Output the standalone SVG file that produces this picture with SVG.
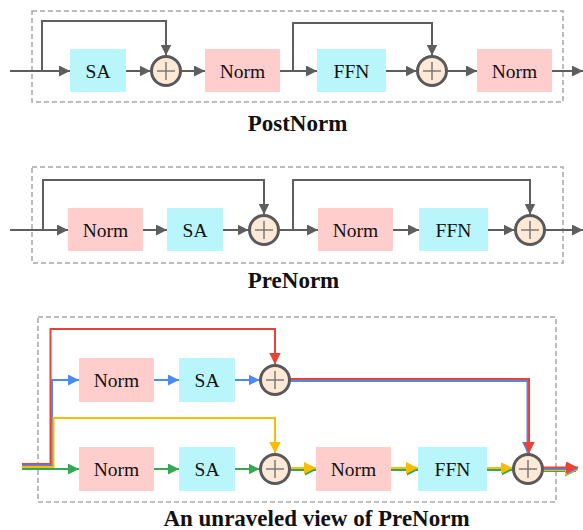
<svg xmlns="http://www.w3.org/2000/svg" width="583" height="530" viewBox="0 0 583 530">
<defs>
<style>
.frame{fill:none;stroke:#a8a8a8;stroke-width:1.5;stroke-dasharray:5,3}
.norm{fill:#ffcdcb}
.sa{fill:#b9f6fc}
.lbl{font-family:'Liberation Serif','DejaVu Serif',serif;font-size:19.5px;fill:#111;text-anchor:middle;dominant-baseline:central}
.title{font-family:'Liberation Serif','DejaVu Serif',serif;font-size:23px;font-weight:bold;fill:#111;text-anchor:middle}
.add circle{fill:#fde9d6;stroke:#595959;stroke-width:3}
.add path{stroke:#7a7a7a;stroke-width:1.5;fill:none}
.g{fill:none;stroke:#5e5e5e;stroke-width:2}
.r{fill:none;stroke:#ea4335;stroke-width:2}
.b{fill:none;stroke:#4a8af4;stroke-width:2}
.y{fill:none;stroke:#fbbc05;stroke-width:2}
.gr{fill:none;stroke:#34a853;stroke-width:2}
</style>
<marker id="ag" viewBox="0 0 10 10" refX="10" refY="5" markerWidth="11" markerHeight="11" markerUnits="userSpaceOnUse" orient="auto"><path d="M0,0 L10,5 L0,10 z" fill="#5e5e5e"/></marker>
<marker id="ar" viewBox="0 0 10 10" refX="10" refY="5" markerWidth="12" markerHeight="12" markerUnits="userSpaceOnUse" orient="auto"><path d="M0,0 L10,5 L0,10 z" fill="#ea4335"/></marker>
<marker id="ab" viewBox="0 0 10 10" refX="10" refY="5" markerWidth="11" markerHeight="11" markerUnits="userSpaceOnUse" orient="auto"><path d="M0,0 L10,5 L0,10 z" fill="#4a8af4"/></marker>
<marker id="ay" viewBox="0 0 10 10" refX="10" refY="5" markerWidth="12" markerHeight="12" markerUnits="userSpaceOnUse" orient="auto"><path d="M0,0 L10,5 L0,10 z" fill="#fbbc05"/></marker>
<marker id="agr" viewBox="0 0 10 10" refX="10" refY="5" markerWidth="11" markerHeight="11" markerUnits="userSpaceOnUse" orient="auto"><path d="M0,0 L10,5 L0,10 z" fill="#34a853"/></marker>
</defs>
<rect width="583" height="530" fill="#fff"/>

<!-- frames -->
<rect class="frame" x="32" y="11" width="531" height="91"/>
<rect class="frame" x="32" y="167" width="531" height="96"/>
<rect class="frame" x="38" y="317" width="518" height="185"/>

<g id="connectors">
<!-- PostNorm -->
<path class="g" d="M10,71 H70" marker-end="url(#ag)"/>
<path class="g" d="M42,71 V21 H166 V55.5" marker-end="url(#ag)"/>
<path class="g" d="M126,71 H150.5" marker-end="url(#ag)"/>
<path class="g" d="M181.5,71 H205" marker-end="url(#ag)"/>
<path class="g" d="M280,71 H317" marker-end="url(#ag)"/>
<path class="g" d="M293,71 V23 H432 V55.5" marker-end="url(#ag)"/>
<path class="g" d="M386,71 H416.5" marker-end="url(#ag)"/>
<path class="g" d="M447.5,71 H477" marker-end="url(#ag)"/>
<path class="g" d="M552,71 H583" marker-end="url(#ag)"/>
<!-- PreNorm -->
<path class="g" d="M10,230 H68" marker-end="url(#ag)"/>
<path class="g" d="M43,230 V180 H264 V214.5" marker-end="url(#ag)"/>
<path class="g" d="M143,230 H167" marker-end="url(#ag)"/>
<path class="g" d="M223,230 H248.5" marker-end="url(#ag)"/>
<path class="g" d="M279.5,230 H318" marker-end="url(#ag)"/>
<path class="g" d="M293,230 V180 H530 V214.5" marker-end="url(#ag)"/>
<path class="g" d="M393,230 H419" marker-end="url(#ag)"/>
<path class="g" d="M488,230 H514.5" marker-end="url(#ag)"/>
<path class="g" d="M545.5,230 H583" marker-end="url(#ag)"/>
<!-- Unraveled -->
<path class="r" d="M22,464 H50.5 V329 H275 V364.5" marker-end="url(#ar)"/>
<path class="b" d="M22,465.5 H52 V380 H79" marker-end="url(#ab)"/>
<path class="y" d="M22,467 H53.5 V418 H275 V453.5" marker-end="url(#ay)"/>
<path class="gr" d="M22,469 H79" marker-end="url(#agr)"/>
<path class="b" d="M154,380 H179" marker-end="url(#ab)"/>
<path class="b" d="M235,380 H259.5" marker-end="url(#ab)"/>
<path class="b" d="M290.5,381 H527.5 V453" marker-end="url(#ab)"/>
<path class="r" d="M290.5,379 H529 V453.5" marker-end="url(#ar)"/>
<path class="gr" d="M154,469 H179" marker-end="url(#agr)"/>
<path class="gr" d="M235,469 H259.5" marker-end="url(#agr)"/>
<path class="gr" d="M290.5,470 H316" marker-end="url(#agr)"/>
<path class="y" d="M290.5,468 H316" marker-end="url(#ay)"/>
<path class="gr" d="M391,470 H418" marker-end="url(#agr)"/>
<path class="y" d="M391,468 H418" marker-end="url(#ay)"/>
<path class="gr" d="M487,470 H512.5" marker-end="url(#agr)"/>
<path class="y" d="M487,468 H512.5" marker-end="url(#ay)"/>
<path class="gr" d="M543.5,471 H576" marker-end="url(#agr)"/>
<path class="y" d="M543.5,470 H577" marker-end="url(#ay)"/>
<path class="b" d="M543.5,469 H577.5" marker-end="url(#ab)"/>
<path class="r" d="M543.5,467.5 H578" marker-end="url(#ar)"/>
</g>

<!-- PostNorm nodes -->
<g id="p1-sa"><rect class="sa" x="70" y="49" width="56" height="43"/><text class="lbl" x="98" y="71">SA</text></g>
<g id="p1-add1" class="add"><circle cx="166" cy="71" r="14.5"/><path d="M157,71 H175 M166,62 V80"/></g>
<g id="p1-norm1"><rect class="norm" x="205" y="49" width="75" height="43"/><text class="lbl" x="242.5" y="71">Norm</text></g>
<g id="p1-ffn"><rect class="sa" x="317" y="49" width="69" height="43"/><text class="lbl" x="351.5" y="71">FFN</text></g>
<g id="p1-add2" class="add"><circle cx="432" cy="71" r="14.5"/><path d="M423,71 H441 M432,62 V80"/></g>
<g id="p1-norm2"><rect class="norm" x="477" y="49" width="75" height="43"/><text class="lbl" x="514.5" y="71">Norm</text></g>
<text class="title" x="297.5" y="131">PostNorm</text>

<!-- PreNorm nodes -->
<g id="p2-norm1"><rect class="norm" x="68" y="208" width="75" height="43"/><text class="lbl" x="105.5" y="230">Norm</text></g>
<g id="p2-sa"><rect class="sa" x="167" y="208" width="56" height="43"/><text class="lbl" x="195" y="230">SA</text></g>
<g id="p2-add1" class="add"><circle cx="264" cy="230" r="14.5"/><path d="M255,230 H273 M264,221 V239"/></g>
<g id="p2-norm2"><rect class="norm" x="318" y="208" width="75" height="43"/><text class="lbl" x="355.5" y="230">Norm</text></g>
<g id="p2-ffn"><rect class="sa" x="419" y="208" width="69" height="43"/><text class="lbl" x="453.5" y="230">FFN</text></g>
<g id="p2-add2" class="add"><circle cx="530" cy="230" r="14.5"/><path d="M521,230 H539 M530,221 V239"/></g>
<text class="title" x="293.5" y="288">PreNorm</text>

<!-- Unraveled nodes -->
<g id="u-norm-top"><rect class="norm" x="79" y="358" width="75" height="44"/><text class="lbl" x="116.5" y="380">Norm</text></g>
<g id="u-sa-top"><rect class="sa" x="179" y="358" width="56" height="44"/><text class="lbl" x="207" y="380">SA</text></g>
<g id="u-add-top" class="add"><circle cx="275" cy="380" r="14.5"/><path d="M266,380 H284 M275,371 V389"/></g>
<g id="u-norm-bot"><rect class="norm" x="79" y="447" width="75" height="44"/><text class="lbl" x="116.5" y="469">Norm</text></g>
<g id="u-sa-bot"><rect class="sa" x="179" y="447" width="56" height="44"/><text class="lbl" x="207" y="469">SA</text></g>
<g id="u-add-bot" class="add"><circle cx="275" cy="469" r="14.5"/><path d="M266,469 H284 M275,460 V478"/></g>
<g id="u-norm2"><rect class="norm" x="316" y="447" width="75" height="44"/><text class="lbl" x="353.5" y="469">Norm</text></g>
<g id="u-ffn"><rect class="sa" x="418" y="447" width="69" height="44"/><text class="lbl" x="452.5" y="469">FFN</text></g>
<g id="u-add-out" class="add"><circle cx="528" cy="469" r="14.5"/><path d="M519,469 H537 M528,460 V478"/></g>
<text class="title" x="316.5" y="526">An unraveled view of PreNorm</text>
</svg>
